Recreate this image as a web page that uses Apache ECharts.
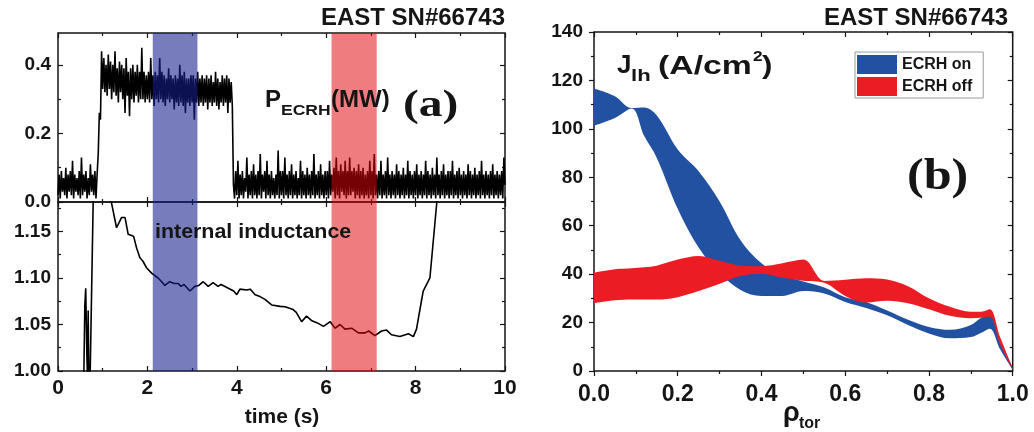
<!DOCTYPE html>
<html>
<head>
<meta charset="utf-8">
<script src="https://cdn.jsdelivr.net/npm/echarts/dist/echarts.min.js"></script>
<style>
  html, body { margin: 0; padding: 0; background: #fff; }
  #chart { width: 1034px; height: 432px; }
</style>
</head>
<body>
<div id="chart"></div>
<script>
// ---------------- panel (a), top: ECRH power (MW), sampled every T_STEP seconds from t = 0
const T_STEP = 0.025;
const PECRH = [
  // 0 - 1 s
  0.02,0.08,0.01,0.09,0.03,0.07,0.02,0.10,0.01,0.08,
  0.03,0.09,0.02,0.12,0.01,0.08,0.03,0.07,0.02,0.09,
  0.01,0.13,0.02,0.08,0.03,0.09,0.01,0.07,0.02,0.11,
  0.03,0.08,0.02,0.09,0.01,0.08,0.14,0.26,0.24,0.44,
  // 1 - 2 s
  0.33,0.42,0.32,0.40,0.31,0.43,0.33,0.41,0.30,0.40,
  0.32,0.44,0.31,0.39,0.29,0.41,0.32,0.40,0.30,0.39,
  0.26,0.42,0.31,0.38,0.25,0.39,0.30,0.40,0.29,0.38,
  0.31,0.40,0.29,0.38,0.30,0.45,0.30,0.38,0.29,0.37,
  // 2 - 3 s
  0.30,0.38,0.29,0.42,0.30,0.37,0.28,0.38,0.30,0.37,
  0.29,0.42,0.30,0.38,0.29,0.37,0.28,0.36,0.30,0.39,
  0.29,0.37,0.30,0.36,0.27,0.37,0.29,0.36,0.28,0.40,
  0.29,0.37,0.28,0.38,0.26,0.36,0.29,0.36,0.28,0.37,
  // 3 - 4 s
  0.29,0.37,0.24,0.36,0.29,0.38,0.28,0.36,0.29,0.37,
  0.28,0.36,0.29,0.37,0.27,0.36,0.29,0.37,0.28,0.35,
  0.29,0.38,0.28,0.36,0.27,0.35,0.29,0.37,0.28,0.36,
  0.29,0.37,0.26,0.36,0.29,0.35,0.28,0.05,0.01,0.09,
  // 4 - 5 s
  0.02,0.12,0.01,0.08,0.02,0.09,0.01,0.07,0.03,0.13,
  0.01,0.08,0.02,0.09,0.01,0.11,0.02,0.08,0.01,0.09,
  0.02,0.14,0.01,0.08,0.03,0.09,0.01,0.12,0.02,0.08,
  0.01,0.09,0.02,0.07,0.01,0.08,0.02,0.15,0.01,0.09,
  // 5 - 6 s
  0.02,0.09,0.01,0.13,0.02,0.08,0.01,0.09,0.02,0.11,
  0.01,0.08,0.02,0.09,0.01,0.07,0.02,0.12,0.01,0.09,
  0.02,0.08,0.01,0.10,0.02,0.08,0.01,0.09,0.02,0.14,
  0.01,0.08,0.02,0.09,0.01,0.11,0.02,0.08,0.01,0.09,
  // 6 - 7 s
  0.02,0.09,0.01,0.12,0.02,0.08,0.03,0.10,0.01,0.13,
  0.02,0.09,0.01,0.11,0.03,0.09,0.02,0.12,0.01,0.09,
  0.02,0.13,0.02,0.09,0.03,0.10,0.01,0.09,0.02,0.11,
  0.01,0.09,0.02,0.10,0.01,0.08,0.02,0.09,0.01,0.12,
  // 7 - 8 s
  0.02,0.09,0.01,0.14,0.02,0.08,0.01,0.09,0.02,0.12,
  0.01,0.08,0.02,0.09,0.01,0.13,0.02,0.08,0.01,0.09,
  0.02,0.08,0.01,0.11,0.02,0.09,0.01,0.08,0.02,0.10,
  0.01,0.08,0.02,0.12,0.01,0.09,0.02,0.08,0.01,0.09,
  // 8 - 9 s
  0.02,0.11,0.01,0.08,0.02,0.09,0.01,0.08,0.02,0.12,
  0.01,0.09,0.02,0.08,0.01,0.10,0.02,0.08,0.01,0.13,
  0.02,0.08,0.01,0.09,0.02,0.11,0.01,0.08,0.02,0.09,
  0.01,0.09,0.02,0.12,0.01,0.08,0.02,0.09,0.01,0.10,
  // 9 - 10 s
  0.02,0.08,0.01,0.09,0.02,0.08,0.01,0.11,0.02,0.09,
  0.01,0.08,0.02,0.10,0.01,0.08,0.02,0.09,0.01,0.12,
  0.02,0.08,0.01,0.09,0.02,0.08,0.01,0.09,0.02,0.11,
  0.01,0.08,0.02,0.09,0.01,0.08,0.02,0.09,0.01,0.13,
  0.05
];

// ---------------- panel (a), bottom: internal inductance vs time (s)
const LI_TIME = [0.55,0.60,0.62,0.645,0.66,0.675,0.69,0.71,0.79,0.90,1.05,1.20,1.31,1.42,1.50,1.57,1.69,1.76,1.83,1.90,1.98,2.10,2.24,2.32,2.39,2.50,2.60,2.69,2.75,2.82,2.95,3.06,3.15,3.25,3.36,3.47,3.58,3.65,3.81,3.93,4.00,4.07,4.22,4.30,4.41,4.52,4.63,4.78,4.97,5.08,5.26,5.33,5.45,5.56,5.68,5.79,5.94,6.09,6.20,6.31,6.42,6.57,6.72,6.87,6.95,7.09,7.24,7.35,7.46,7.65,7.84,7.95,8.02,8.17,8.32,8.47,8.60,8.80];
const LI_VALUE = [0.90,1.07,1.089,1.02,0.99,1.065,0.99,0.97,1.19,1.32,1.30,1.18,1.154,1.165,1.165,1.147,1.145,1.132,1.122,1.118,1.111,1.105,1.100,1.096,1.092,1.096,1.094,1.094,1.091,1.093,1.086,1.091,1.092,1.096,1.091,1.095,1.091,1.093,1.089,1.086,1.082,1.088,1.087,1.088,1.082,1.080,1.077,1.071,1.0695,1.069,1.066,1.063,1.053,1.059,1.054,1.052,1.048,1.053,1.046,1.050,1.045,1.046,1.041,1.041,1.043,1.038,1.043,1.044,1.039,1.037,1.040,1.037,1.045,1.086,1.100,1.179,1.25,1.30];

// shaded time windows (s): ECRH on / ECRH off
const BLUE_WINDOW = [2.12, 3.12];
const RED_WINDOW = [6.12, 7.13];

// ---------------- panel (b): J_lh uncertainty bands (A/cm^2) vs rho_tor
const RHO       = [0,0.05,0.09,0.12,0.15,0.2,0.25,0.3,0.35,0.4,0.45,0.5,0.55,0.6,0.65,0.7,0.75,0.8,0.85,0.9,0.925,0.945,0.97,1.0];
const ON_UPPER  = [116.7,113.5,108.6,108.8,105.5,91.5,82.5,70,54,44.5,39.5,37,34.5,30.5,28.5,25,21.2,18.2,17,19,22,23,13,1.5];
const ON_LOWER  = [101.3,104.5,108.4,97,88,67,51,40.5,33.5,31,31,33,32,28.5,26,23,19,15.5,13.5,14,15.8,17.5,9,0.5];
const OFF_UPPER = [40.6,42,42.4,42.8,43.5,46,47.5,45.5,43.5,43.3,44.5,46,37.2,37.7,38.3,37.8,35,30,26.5,24.5,24.5,25.5,14,1];
const OFF_LOWER = [28,29.2,29.5,29.5,29.5,30.5,33,36,39.2,40.2,38.5,37.3,36.4,31,28.3,29,28,25.5,22.8,21.8,22,22.5,11,0.5];

// ---------------- tick positions
const TIME_MAJOR = [0,2,4,6,8,10];
const TIME_MINOR = [1,3,5,7,9];
const P_MAJOR = [0,0.2,0.4];
const P_MINOR = [0.1,0.3];
const LI_MAJOR = [1.00,1.05,1.10,1.15];
const LI_MINOR = [1.025,1.075,1.125,1.175];
const RHO_MAJOR = [0,0.2,0.4,0.6,0.8,1.0];
const RHO_MINOR = [0.1,0.3,0.5,0.7,0.9];
const J_MAJOR = [0,20,40,60,80,100,120,140];
const J_MINOR = [10,30,50,70,90,110,130];

const INK = '#151515';
const FONT = '"Liberation Sans", Arial, sans-serif';
const SERIF = '"Liberation Serif", "Times New Roman", serif';
const BLUE = '#2251a1';
const RED = '#ec1c24';

const xAxes = [];
const yAxes = [];

function makeAxis(gridIndex, position, min, max, ticks, len, inside, labels, labelOpt) {
  return {
    type: 'value', gridIndex, position, min, max,
    axisLine: { show: false, onZero: false },
    splitLine: { show: false },
    axisTick: { show: true, customValues: ticks, inside, length: len,
                lineStyle: { color: INK, width: 1.2 } },
    axisLabel: labels
      ? Object.assign({ show: true, customValues: labels, color: INK,
                        fontWeight: 'bold', fontFamily: FONT }, labelOpt)
      : { show: false }
  };
}

// four axes per dimension: major + minor ticks on both sides of the frame
function frameAxes(gridIndex, dim, min, max, majors, minors, outward, labelOpt) {
  const list = dim === 'x' ? xAxes : yAxes;
  const sides = dim === 'x' ? ['bottom', 'top'] : ['left', 'right'];
  list.push(makeAxis(gridIndex, sides[0], min, max, majors, 5, !outward, labelOpt ? majors : null, labelOpt));
  const main = list.length - 1;
  list.push(makeAxis(gridIndex, sides[0], min, max, minors, 3, !outward, null));
  list.push(makeAxis(gridIndex, sides[1], min, max, majors, 5, true, null));
  list.push(makeAxis(gridIndex, sides[1], min, max, minors, 3, true, null));
  return main;
}

const timeLabel = { fontSize: 21, margin: 7, formatter: v => String(Math.round(v)) };

// grid 0: ECRH power
const X0 = frameAxes(0, 'x', 0, 10, TIME_MAJOR, TIME_MINOR, false, null);
const Y0 = frameAxes(0, 'y', 0, 0.493, P_MAJOR, P_MINOR, false,
  { fontSize: 19, margin: 7, formatter: v => v.toFixed(1) });
// grid 1: internal inductance
const X1 = frameAxes(1, 'x', 0, 10, TIME_MAJOR, TIME_MINOR, false, timeLabel);
const Y1 = frameAxes(1, 'y', 1.0, 1.1817, LI_MAJOR, LI_MINOR, false,
  { fontSize: 19, margin: 7, formatter: v => v.toFixed(2) });
// grid 2: current density profiles
const X2 = frameAxes(2, 'x', 0, 1, RHO_MAJOR, RHO_MINOR, true,
  { fontSize: 23, margin: 12, formatter: v => v.toFixed(1) });
const Y2 = frameAxes(2, 'y', 0, 140, J_MAJOR, J_MINOR, true,
  { fontSize: 19, margin: 11, formatter: v => String(Math.round(v)) });

const windowArea = {
  silent: true,
  z: 10,
  label: { show: false },
  data: [
    [{ xAxis: BLUE_WINDOW[0], itemStyle: { color: 'rgba(20,30,140,0.58)' } }, { xAxis: BLUE_WINDOW[1] }],
    [{ xAxis: RED_WINDOW[0], itemStyle: { color: 'rgba(225,5,10,0.52)' } }, { xAxis: RED_WINDOW[1] }]
  ]
};

// a filled band = invisible lower line + stacked (upper - lower) area.
// the J value is put in the first column so that it is the stacked dimension.
function bandSeries(name, stack, lower, upper, color) {
  const common = {
    type: 'line', stack, xAxisIndex: X2, yAxisIndex: Y2,
    encode: { x: 1, y: 0 }, smooth: 0.35, symbol: 'none', silent: true, z: 3,
    lineStyle: { width: 0, opacity: 0 }
  };
  return [
    Object.assign({ name: name + ' base', data: RHO.map((r, i) => [lower[i], r]) }, common),
    Object.assign({ name, color, data: RHO.map((r, i) => [upper[i] - lower[i], r]),
                    areaStyle: { color, opacity: 1 } }, common)
  ];
}

function txt(x, y, text, font, align, extra) {
  return Object.assign({
    type: 'text', x, y, silent: true, z: 20,
    style: { text, font, fill: INK, align: align || 'left', verticalAlign: 'middle' }
  }, extra || {});
}

const option = {
  animation: false,
  backgroundColor: '#fff',
  grid: [
    { left: 58, right: 529, top: 33, height: 169, show: true, borderColor: INK, borderWidth: 1.5, backgroundColor: 'transparent' },
    { left: 58, right: 529, top: 202, height: 169, show: true, borderColor: INK, borderWidth: 1.5, backgroundColor: 'transparent' },
    { left: 594, right: 21.3, top: 32, height: 339, show: true, borderColor: INK, borderWidth: 1.5, backgroundColor: 'transparent' }
  ],
  xAxis: xAxes,
  yAxis: yAxes,
  legend: {
    left: 855, top: 52, orient: 'vertical',
    itemWidth: 40, itemHeight: 19, itemGap: 3,
    padding: [3, 11, 2, 2],
    borderColor: '#9a9a9a', borderWidth: 1, backgroundColor: '#fff',
    selectedMode: false,
    textStyle: { fontSize: 16, fontWeight: 'bold', fontFamily: FONT, color: INK },
    data: [
      { name: 'ECRH on', icon: 'rect', itemStyle: { color: BLUE, borderWidth: 0 } },
      { name: 'ECRH off', icon: 'rect', itemStyle: { color: RED, borderWidth: 0 } }
    ]
  },
  series: [
    { type: 'line', xAxisIndex: X0, yAxisIndex: Y0, symbol: 'none', silent: true,
      data: PECRH.map((v, i) => [i * T_STEP, v]),
      lineStyle: { color: '#000', width: 1.6 }, markArea: windowArea },
    { type: 'line', xAxisIndex: X1, yAxisIndex: Y1, symbol: 'none', silent: true,
      data: LI_TIME.map((t, i) => [t, LI_VALUE[i]]),
      lineStyle: { color: '#000', width: 1.6 }, markArea: windowArea },
    ...bandSeries('ECRH on', 'on', ON_LOWER, ON_UPPER, BLUE),
    ...bandSeries('ECRH off', 'off', OFF_LOWER, OFF_UPPER, RED)
  ],
  graphic: [
    txt(505, 18.5, 'EAST SN#66743', 'bold 24px ' + FONT, 'right'),
    txt(1008, 18.5, 'EAST SN#66743', 'bold 24px ' + FONT, 'right'),
    txt(265, 100.5, 'P', 'bold 24px ' + FONT),
    txt(281, 111.5, 'ECRH', 'bold 14px ' + FONT, 'left', { scaleX: 1.25 }),
    txt(331, 100.5, '(MW)', 'bold 24px ' + FONT),
    txt(403, 106, '(a)', 'bold 38px ' + SERIF, 'left', { scaleX: 1.25 }),
    txt(155, 232, 'internal inductance', 'bold 20px ' + FONT, 'left', { scaleX: 1.07 }),
    txt(282, 417, 'time (s)', 'bold 21px ' + FONT, 'center'),
    txt(617, 66, 'J', 'bold 26px ' + FONT),
    txt(631, 76.5, 'lh', 'bold 17px ' + FONT, 'left', { scaleX: 1.3 }),
    txt(658, 66.5, '(A/cm', 'bold 26px ' + FONT, 'left', { scaleX: 1.3 }),
    txt(753, 57, '2', 'bold 15px ' + FONT, 'left', { scaleX: 1.15 }),
    txt(762, 66.5, ')', 'bold 26px ' + FONT, 'left', { scaleX: 1.2 }),
    txt(907, 178, '(b)', 'bold 44px ' + SERIF, 'left', { scaleX: 1.14 }),
    txt(783, 414, 'ρ', 'bold 27px ' + FONT),
    txt(799, 424, 'tor', 'bold 16px ' + FONT)
  ]
};

const chart = echarts.init(document.getElementById('chart'), null, { renderer: 'canvas' });
chart.setOption(option);
</script>
</body>
</html>
